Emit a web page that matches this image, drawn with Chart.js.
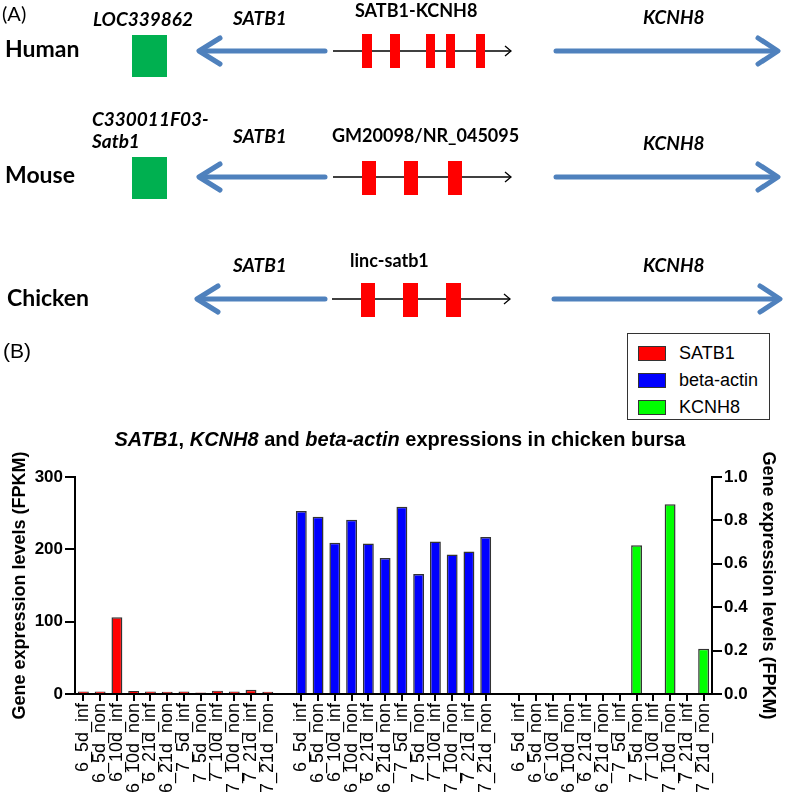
<!DOCTYPE html>
<html>
<head>
<meta charset="utf-8">
<script src="https://cdn.jsdelivr.net/npm/chart.js@4.4.1/dist/chart.umd.min.js"></script>
<style>
  html, body { margin: 0; padding: 0; background: #fff; }
  #page { position: relative; width: 787px; height: 798px; overflow: hidden; }
  #chart { position: absolute; left: 0; top: 0; }
  #genes { position: absolute; left: 0; top: 0; }
  #labelB { position: absolute; left: 3px; top: 339px; font: 21px "Liberation Sans", Arial, sans-serif; }
  #title { position: absolute; left: 0; width: 800px; top: 428px; text-align: center;
           font: bold 20px "Liberation Sans", Arial, sans-serif; line-height: 23px; }
  #legend { position: absolute; left: 627px; top: 333px; width: 143px; height: 87px;
            border: 1px solid #333; background: #fff; padding-top: 6px; box-sizing: border-box; }
  #legend .row { height: 27px; display: flex; align-items: center; font: 18px "Liberation Sans", Arial, sans-serif; }
  #legend .sw { width: 26px; height: 13px; margin: 0 13px 0 10px; border: 1px solid #333; }
</style>
</head>
<body>
<div id="page">
  <canvas id="chart" width="787" height="798"></canvas>

  <svg id="genes" width="787" height="330" font-family="Lato, 'Open Sans', sans-serif" font-weight="bold">
    <text x="2" y="21" font-weight="normal" font-size="20">(A)</text>
    <text x="5" y="57" font-size="23">Human</text>
    <text x="5" y="183" font-size="23">Mouse</text>
    <text x="7" y="306" font-size="23">Chicken</text>

    <text x="93" y="26" font-size="19" font-style="italic">LOC339862</text>
    <text x="92" y="126" font-size="19" font-style="italic">C330011F03-</text>
    <text x="92" y="148" font-size="19" font-style="italic">Satb1</text>
    <rect x="132" y="35" width="35" height="42" fill="#00b050"/>
    <rect x="132" y="157" width="35" height="42" fill="#00b050"/>

    <g font-size="19" font-style="italic">
      <text x="233" y="25">SATB1</text>
      <text x="233" y="143">SATB1</text>
      <text x="233" y="272">SATB1</text>
      <text x="643" y="24">KCNH8</text>
      <text x="643" y="150">KCNH8</text>
      <text x="643" y="272">KCNH8</text>
    </g>
    <g font-size="18">
      <text x="355" y="17">SATB1-KCNH8</text>
      <text x="332" y="142">GM20098/NR_045095</text>
      <text x="350" y="267">linc-satb1</text>
    </g>

    <g stroke="#4f81bd" stroke-width="5" fill="none" stroke-linecap="round" stroke-linejoin="round">
      <line x1="325" y1="51" x2="202" y2="51"/><polyline points="220,38 199,51 220,64"/>
      <line x1="556" y1="51" x2="775" y2="51"/><polyline points="758,38 778,51 758,64"/>
      <line x1="325" y1="177" x2="202" y2="177"/><polyline points="220,164 199,177 220,190"/>
      <line x1="556" y1="177" x2="775" y2="177"/><polyline points="758,164 778,177 758,190"/>
      <line x1="325" y1="299" x2="200" y2="299"/><polyline points="218,286 197,299 218,312"/>
      <line x1="554" y1="299" x2="777" y2="299"/><polyline points="760,286 780,299 760,312"/>
    </g>

    <g stroke="#000" stroke-width="1.3" fill="none">
      <line x1="333" y1="51" x2="511" y2="51"/><polyline points="505,46 511,51 505,56"/>
      <line x1="333" y1="177" x2="511" y2="177"/><polyline points="505,172 511,177 505,182"/>
      <line x1="332" y1="299" x2="510" y2="299"/><polyline points="504,294 510,299 504,304"/>
    </g>

    <g fill="#ff0000">
      <rect x="362" y="34" width="10" height="34"/>
      <rect x="390" y="34" width="10" height="34"/>
      <rect x="426" y="34" width="9" height="34"/>
      <rect x="446" y="34" width="9" height="34"/>
      <rect x="476" y="34" width="9" height="34"/>
      <rect x="362" y="161" width="14" height="34"/>
      <rect x="404" y="161" width="14" height="34"/>
      <rect x="448" y="161" width="14" height="34"/>
      <rect x="361" y="283" width="14" height="34"/>
      <rect x="403" y="283" width="15" height="34"/>
      <rect x="446" y="283" width="15" height="34"/>
    </g>
  </svg>

  <div id="labelB">(B)</div>
  <div id="legend"></div>
  <div id="title"><i>SATB1</i>, <i>KCNH8</i> and <i>beta-actin</i> expressions in chicken bursa</div>
</div>

<script>
// sample names, same order in each of the three groups
const samples = ['6_5d_inf', '6_5d_non', '6_10d_inf', '6_10d_non', '6_21d_inf', '6_21d_non',
                 '7_5d_inf', '7_5d_non', '7_10d_inf', '7_10d_non', '7_21d_inf', '7_21d_non'];

// FPKM values
const satb1 = [3.5, 3.5, 106, 4, 3.5, 3, 3.5, 2, 4.5, 3.5, 6, 3];
const betaActin = [253, 245, 209, 241, 208, 188, 259, 166, 211, 193, 197, 217];
const kcnh8 = [0, 0, 0.003, 0, 0, 0, 0, 0.685, 0, 0.875, 0, 0.208];   // right axis

const leftTicks = [0, 100, 200, 300];
const rightTicks = [0, 0.2, 0.4, 0.6, 0.8, 1.0];

document.addEventListener('DOMContentLoaded', () => {
    // three groups with one empty slot between them
    const labels = [...samples, '', ...samples, '', ...samples];
    const blank = samples.map(() => null);

    const font = 'Liberation Sans, Arial, sans-serif';

    const chart = new Chart(document.getElementById('chart').getContext('2d'), {
        type: 'bar',
        data: {
            labels: labels,
            datasets: [
                {
                    label: 'SATB1',
                    data: [...satb1, null, ...blank, null, ...blank],
                    backgroundColor: '#ff0000',
                    yAxisID: 'y'
                },
                {
                    label: 'beta-actin',
                    data: [...blank, null, ...betaActin, null, ...blank],
                    backgroundColor: '#0000ff',
                    yAxisID: 'y'
                },
                {
                    label: 'KCNH8',
                    data: [...blank, null, ...blank, null, ...kcnh8],
                    backgroundColor: '#00ff00',
                    yAxisID: 'y1'
                }
            ]
        },
        options: {
            responsive: false,
            animation: false,
            devicePixelRatio: 1,
            layout: { padding: { top: 477 } },
            datasets: {
                bar: {
                    grouped: false,
                    categoryPercentage: 1,
                    barPercentage: 0.65,
                    borderColor: '#333',
                    borderWidth: 1.5
                }
            },
            plugins: {
                legend: { display: false },
                tooltip: { enabled: false }
            },
            scales: {
                x: {
                    offset: true,
                    grid: {
                        offset: false,
                        drawOnChartArea: false,
                        tickLength: 7,
                        lineWidth: 2,
                        color: ctx => labels[ctx.index] ? '#000' : 'rgba(0,0,0,0)'
                    },
                    border: { color: '#000', width: 2 },
                    ticks: {
                        autoSkip: false,
                        minRotation: 90,
                        maxRotation: 90,
                        padding: 2,
                        color: '#000',
                        font: { family: font, size: 18 }
                    },
                    afterFit: scale => { scale.height = 104; }
                },
                y: {
                    position: 'left',
                    min: leftTicks[0],
                    max: leftTicks[leftTicks.length - 1],
                    afterBuildTicks: scale => { scale.ticks = leftTicks.map(v => ({ value: v })); },
                    grid: { drawOnChartArea: false, tickLength: 10, lineWidth: 2, color: '#000' },
                    border: { color: '#000', width: 2 },
                    ticks: { color: '#000', padding: 2, font: { family: font, size: 17, weight: 'bold' } },
                    title: {
                        display: true,
                        text: 'Gene expression levels (FPKM)',
                        color: '#000',
                        padding: { top: 9 },
                        font: { family: font, size: 18, weight: 'bold' }
                    },
                    afterFit: scale => { scale.width = 75; }
                },
                y1: {
                    position: 'right',
                    min: rightTicks[0],
                    max: rightTicks[rightTicks.length - 1],
                    afterBuildTicks: scale => { scale.ticks = rightTicks.map(v => ({ value: v })); },
                    grid: { drawOnChartArea: false, tickLength: 10, lineWidth: 2, color: '#000' },
                    border: { color: '#000', width: 2 },
                    ticks: {
                        color: '#000',
                        padding: 2,
                        font: { family: font, size: 17, weight: 'bold' },
                        callback: v => Number(v).toFixed(1)
                    },
                    title: {
                        display: true,
                        text: 'Gene expression levels (FPKM)',
                        color: '#000',
                        padding: { top: 8 },
                        font: { family: font, size: 18, weight: 'bold' }
                    },
                    afterFit: scale => { scale.width = 75; }
                }
            }
        }
    });

    // legend box, built from the chart's datasets
    const legend = document.getElementById('legend');
    chart.data.datasets.forEach(ds => {
        const row = document.createElement('div');
        row.className = 'row';
        row.innerHTML = '<span class="sw" style="background:' + ds.backgroundColor + '"></span>' + ds.label;
        legend.appendChild(row);
    });
});
</script>
</body>
</html>
